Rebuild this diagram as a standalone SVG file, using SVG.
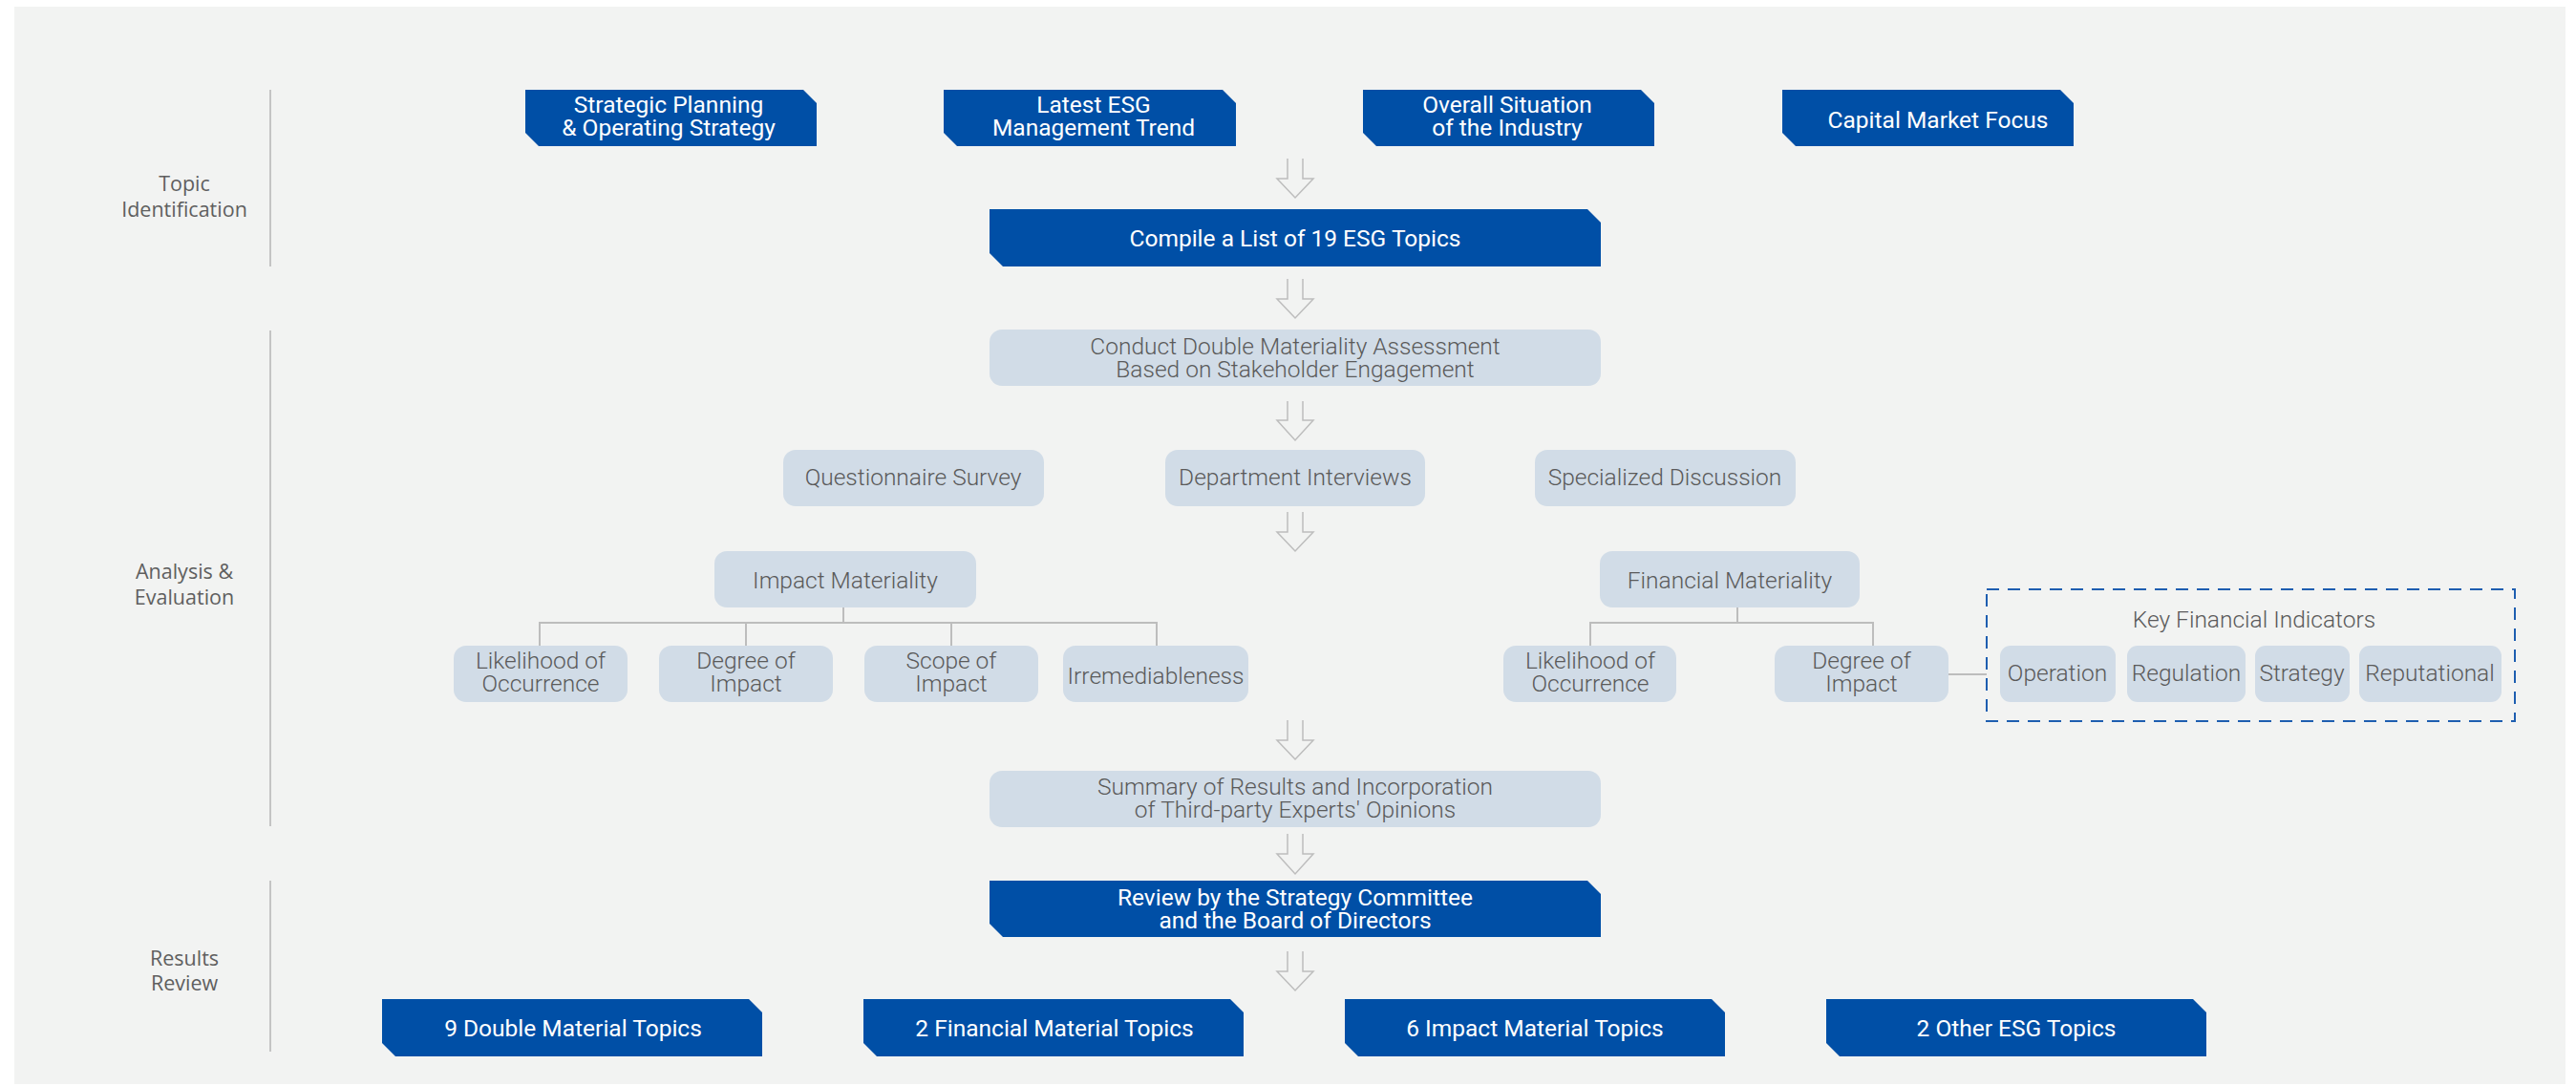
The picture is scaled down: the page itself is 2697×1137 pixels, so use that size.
<svg xmlns="http://www.w3.org/2000/svg" width="2697" height="1137" viewBox="0 0 2697 1137">
<style>
.bg{fill:#f2f3f2}
.blue{fill:#004fa6}
.lite{fill:#d1dce7}
.wt{font-family:Roboto,"Liberation Sans",sans-serif;font-size:24.5px;fill:#ffffff;text-anchor:middle}
.gt{font-family:Roboto,"Liberation Sans",sans-serif;font-size:24.5px;font-weight:300;fill:#5a5a5a;text-anchor:middle}
.lbl{font-family:"Open Sans","Liberation Sans",sans-serif;font-size:21.5px;fill:#5f5f5f;text-anchor:middle}
.div{stroke:#c4c4c4;stroke-width:2;fill:none}
.tree{stroke:#bdbdbd;stroke-width:2;fill:none}
.arr{stroke:#bdbdbd;stroke-width:1.5;fill:none;stroke-linejoin:miter}
.dash{stroke:#1e5eb0;stroke-width:2;fill:none;stroke-dasharray:13 9}
</style>
<rect class="bg" x="15" y="7" width="2671" height="1128"/>

<g id="labels">
<line class="div" x1="283" y1="94" x2="283" y2="279"/>
<line class="div" x1="283" y1="346" x2="283" y2="865"/>
<line class="div" x1="283" y1="922" x2="283" y2="1101"/>
<text class="lbl" x="193" y="200">Topic</text>
<text class="lbl" x="193" y="227">Identification</text>
<text class="lbl" x="193" y="606">Analysis &amp;</text>
<text class="lbl" x="193" y="633">Evaluation</text>
<text class="lbl" x="193" y="1011">Results</text>
<text class="lbl" x="193" y="1037">Review</text>
</g>

<g id="connectors">
<path class="arr" d="M1348,166 V187 H1337 L1356,207 L1375,187 H1364 V166"/>
<path class="arr" d="M1348,292 V313 H1337 L1356,333 L1375,313 H1364 V292"/>
<path class="arr" d="M1348,420 V440 H1337 L1356,461 L1375,440 H1364 V420"/>
<path class="arr" d="M1348,536 V557 H1337 L1356,577 L1375,557 H1364 V536"/>
<path class="arr" d="M1348,754 V775 H1337 L1356,795 L1375,775 H1364 V754"/>
<path class="arr" d="M1348,873 V894 H1337 L1356,915 L1375,894 H1364 V873"/>
<path class="arr" d="M1348,996 V1017 H1337 L1356,1037 L1375,1017 H1364 V996"/>
<path class="tree" d="M883,636 V652 M565,676 V652 H1211 V676 M781,652 V676 M996,652 V676"/>
<path class="tree" d="M1819,636 V652 M1665,676 V652 H1961 V676"/>
<path class="tree" d="M2040,706 H2080"/>
</g>

<g id="n-strategic"><path class="blue" d="M550,94 H841 L855,108 V153 H564 L550,139 Z"/><text class="wt" x="700" y="118">Strategic Planning</text><text class="wt" x="700" y="142">&amp; Operating Strategy</text></g>
<g id="n-latest"><path class="blue" d="M988,94 H1280 L1294,108 V153 H1002 L988,139 Z"/><text class="wt" x="1145" y="118">Latest ESG</text><text class="wt" x="1145" y="142">Management Trend</text></g>
<g id="n-overall"><path class="blue" d="M1427,94 H1718 L1732,108 V153 H1441 L1427,139 Z"/><text class="wt" x="1578" y="118">Overall Situation</text><text class="wt" x="1578" y="142">of the Industry</text></g>
<g id="n-capital"><path class="blue" d="M1866,94 H2157 L2171,108 V153 H1880 L1866,139 Z"/><text class="wt" x="2029" y="134">Capital Market Focus</text></g>

<g id="n-compile"><path class="blue" d="M1036,219 H1662 L1676,233 V279 H1050 L1036,265 Z"/><text class="wt" x="1356" y="258">Compile a List of 19 ESG Topics</text></g>

<g id="n-conduct"><rect class="lite" x="1036" y="345" width="640" height="59" rx="13"/><text class="gt" x="1356" y="371">Conduct Double Materiality Assessment</text><text class="gt" x="1356" y="395">Based on Stakeholder Engagement</text></g>

<g id="n-quest"><rect class="lite" x="820" y="471" width="273" height="59" rx="13"/><text class="gt" x="956" y="508">Questionnaire Survey</text></g>
<g id="n-dept"><rect class="lite" x="1220" y="471" width="272" height="59" rx="13"/><text class="gt" x="1356" y="508">Department Interviews</text></g>
<g id="n-spec"><rect class="lite" x="1607" y="471" width="273" height="59" rx="13"/><text class="gt" x="1743" y="508">Specialized Discussion</text></g>

<g id="n-impact"><rect class="lite" x="748" y="577" width="274" height="59" rx="13"/><text class="gt" x="885" y="616">Impact Materiality</text></g>
<g id="n-fin"><rect class="lite" x="1675" y="577" width="272" height="59" rx="13"/><text class="gt" x="1811" y="616">Financial Materiality</text></g>

<g id="n-i-like"><rect class="lite" x="475" y="676" width="182" height="59" rx="13"/><text class="gt" x="566" y="700">Likelihood of</text><text class="gt" x="566" y="724">Occurrence</text></g>
<g id="n-i-deg"><rect class="lite" x="690" y="676" width="182" height="59" rx="13"/><text class="gt" x="781" y="700">Degree of</text><text class="gt" x="781" y="724">Impact</text></g>
<g id="n-i-scope"><rect class="lite" x="905" y="676" width="182" height="59" rx="13"/><text class="gt" x="996" y="700">Scope of</text><text class="gt" x="996" y="724">Impact</text></g>
<g id="n-i-irr"><rect class="lite" x="1113" y="676" width="194" height="59" rx="13"/><text class="gt" x="1210" y="716">Irremediableness</text></g>

<g id="n-f-like"><rect class="lite" x="1574" y="676" width="181" height="59" rx="13"/><text class="gt" x="1665" y="700">Likelihood of</text><text class="gt" x="1665" y="724">Occurrence</text></g>
<g id="n-f-deg"><rect class="lite" x="1858" y="676" width="182" height="59" rx="13"/><text class="gt" x="1949" y="700">Degree of</text><text class="gt" x="1949" y="724">Impact</text></g>

<g id="n-kfi"><rect class="dash" x="2080" y="617" width="553" height="138"/><text class="gt" x="2360" y="657">Key Financial Indicators</text>
<rect class="lite" x="2094" y="676" width="121" height="59" rx="11"/><text class="gt" x="2154" y="713">Operation</text>
<rect class="lite" x="2227" y="676" width="124" height="59" rx="11"/><text class="gt" x="2289" y="713">Regulation</text>
<rect class="lite" x="2361" y="676" width="99" height="59" rx="11"/><text class="gt" x="2410" y="713">Strategy</text>
<rect class="lite" x="2470" y="676" width="149" height="59" rx="11"/><text class="gt" x="2544" y="713">Reputational</text>
</g>

<g id="n-summary"><rect class="lite" x="1036" y="807" width="640" height="59" rx="13"/><text class="gt" x="1356" y="832">Summary of Results and Incorporation</text><text class="gt" x="1356" y="856">of Third-party Experts' Opinions</text></g>

<g id="n-review"><path class="blue" d="M1036,922 H1662 L1676,936 V981 H1050 L1036,967 Z"/><text class="wt" x="1356" y="948">Review by the Strategy Committee</text><text class="wt" x="1356" y="972">and the Board of Directors</text></g>

<g id="n-double"><path class="blue" d="M400,1046 H784 L798,1060 V1106 H414 L400,1092 Z"/><text class="wt" x="600" y="1085">9 Double Material Topics</text></g>
<g id="n-financial"><path class="blue" d="M904,1046 H1288 L1302,1060 V1106 H918 L904,1092 Z"/><text class="wt" x="1104" y="1085">2 Financial Material Topics</text></g>
<g id="n-impactT"><path class="blue" d="M1408,1046 H1792 L1806,1060 V1106 H1422 L1408,1092 Z"/><text class="wt" x="1607" y="1085">6 Impact Material Topics</text></g>
<g id="n-other"><path class="blue" d="M1912,1046 H2296 L2310,1060 V1106 H1926 L1912,1092 Z"/><text class="wt" x="2111" y="1085">2 Other ESG Topics</text></g>
</svg>
